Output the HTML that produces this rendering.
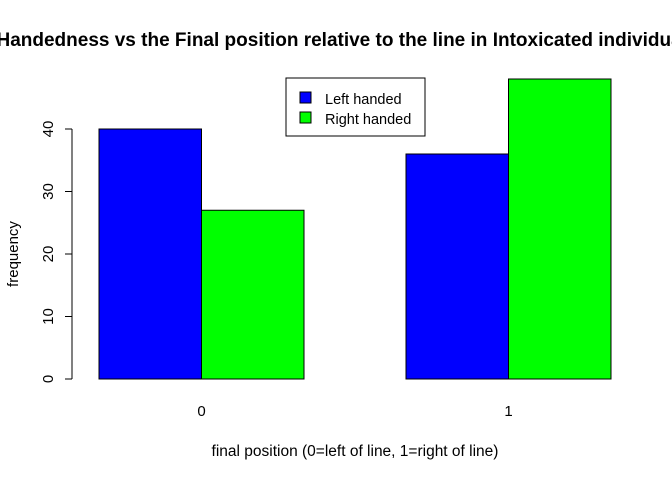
<!DOCTYPE html>
<html><head><meta charset="utf-8"><style>
body{margin:0;background:#fff;overflow:hidden}
svg text{font-family:"Liberation Sans",Arial,sans-serif}
</style></head><body>
<svg width="672" height="480" xmlns="http://www.w3.org/2000/svg">
<text x="347" y="46" text-anchor="middle" font-size="19" font-weight="bold">Handedness vs the Final position relative to the line in Intoxicated individuals</text>
<text x="355" y="456" text-anchor="middle" font-size="15.5">final position (0=left of line, 1=right of line)</text>
<text transform="translate(18,254) rotate(-90)" text-anchor="middle" font-size="15">frequency</text>
<g id="yaxis"></g>
<g id="bars"></g>
<g id="xlabels"></g>
<g>
<rect x="286" y="78" width="139" height="58" fill="#fff" stroke="#000"/>
<rect x="300" y="92" width="11" height="11" fill="#0000ff" stroke="#000"/>
<text x="325" y="104" font-size="14.5">Left handed</text>
<rect x="300" y="112" width="11" height="11" fill="#00ff00" stroke="#000"/>
<text x="325" y="124" font-size="14.5">Right handed</text>
</g>
</svg>
<script>
const categories = ["0", "1"];
const leftHanded = [40, 36];
const rightHanded = [27, 48];
const yTicks = [0, 10, 20, 30, 40];
const NS = "http://www.w3.org/2000/svg";
function y(v){ return 379 - v * 6.25; }
function groupX(i){ return 99 + i * 307; }
const barW = 102.5;
const yaxis = document.getElementById('yaxis');
const bars = document.getElementById('bars');
const xl = document.getElementById('xlabels');
function mk(tag, attrs, parent){ const e=document.createElementNS(NS,tag); for(const k in attrs) e.setAttribute(k,attrs[k]); parent.appendChild(e); return e; }
const al = mk('line',{x1:72,x2:72,y1:y(yTicks[0]),y2:y(yTicks[yTicks.length-1]),stroke:'#000'},yaxis);


yTicks.forEach(t=>{
  const l = mk('line',{x1:65,x2:72,y1:y(t),y2:y(t),stroke:'#000'},yaxis);
  
  
  const tx = mk('text',{transform:`translate(53,${y(t)}) rotate(-90)`,'text-anchor':'middle','font-size':15},yaxis);
  tx.textContent = t;
  
  
});
categories.forEach((c,i)=>{
  const x0 = groupX(i);
  const b1 = mk('rect',{x:x0,y:y(leftHanded[i]),width:barW,height:y(0)-y(leftHanded[i]),fill:'#0000ff',stroke:'#000'},bars);
  
  
  const b2 = mk('rect',{x:x0+barW,y:y(rightHanded[i]),width:barW,height:y(0)-y(rightHanded[i]),fill:'#00ff00',stroke:'#000'},bars);
  
  
  const t = mk('text',{x:x0+barW,y:416,'text-anchor':'middle','font-size':15},xl);
  t.textContent = c;
  
  
});
</script>
</body></html>
